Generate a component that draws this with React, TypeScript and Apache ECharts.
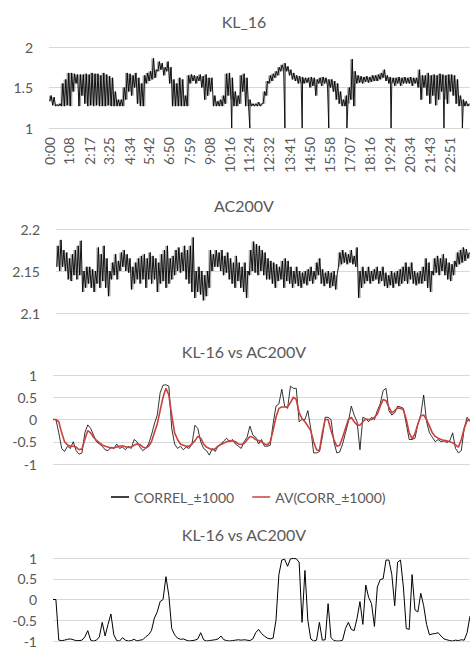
import React, { useEffect, useRef } from "react";
import * as echarts from "echarts";

// ---------- data ----------
const TIME_LABELS = [
  "0:00", "1:08", "2:17", "3:25", "4:34", "5:42", "6:50", "7:59", "9:08", "10:16", "11:24",
  "12:32", "13:41", "14:50", "15:58", "17:07", "18:16", "19:24", "20:34", "21:43", "22:51",
];
const DAY_MINUTES = 1440;
const BIN_MINUTES = 10;

// KL_16: low / high envelope per 10-minute bin
const KL16_LOW = [
  1.33, 1.28, 1.27, 1.27, 1.27, 1.27, 1.28, 1.27, 1.45, 1.55, 1.27, 1.4, 1.3, 1.27, 1.28, 1.27,
  1.28, 1.27, 1.27, 1.27, 1.28, 1.27, 1.27, 1.27, 1.27, 1.27, 1.35, 1.45, 1.4, 1.5, 1.3, 1.27,
  1.27, 1.55, 1.58, 1.6, 1.62, 1.7, 1.72, 1.65, 1.7, 1.55, 1.27, 1.27, 1.27, 1.27, 1.27, 1.27,
  1.55, 1.58, 1.55, 1.58, 1.5, 1.35, 1.4, 1.45, 1.27, 1.27, 1.27, 1.27, 1.3, 1.4, 1.35, 1.27,
  1.27, 1.3, 1.45, 1.27, 1.27, 1.27, 1.27, 1.27, 1.27, 1.3, 1.4, 1.55, 1.58, 1.62, 1.65, 1.7,
  1.72, 1.7, 1.65, 1.6, 1.58, 1.55, 1.55, 1.55, 1.56, 1.5, 1.52, 1.4, 1.55, 1.52, 1.55, 1.52,
  1.5, 1.45, 1.35, 1.3, 1.27, 1.27, 1.3, 1.35, 1.27, 1.55, 1.56, 1.55, 1.57, 1.56, 1.57, 1.58,
  1.58, 1.6, 1.62, 1.58, 1.55, 1.55, 1.52, 1.55, 1.52, 1.55, 1.55, 1.55, 1.52, 1.55, 1.5, 1.35,
  1.5, 1.4, 1.3, 1.4, 1.28, 1.35, 1.45, 1.35, 1.3, 1.45, 1.4, 1.3, 1.27, 1.27, 1.27, 1.27,
];
const KL16_HIGH = [
  1.4, 1.38, 1.29, 1.3, 1.55, 1.6, 1.68, 1.68, 1.67, 1.66, 1.66, 1.66, 1.67, 1.66, 1.68, 1.67,
  1.67, 1.65, 1.68, 1.66, 1.64, 1.62, 1.45, 1.35, 1.35, 1.5, 1.68, 1.67, 1.65, 1.68, 1.62, 1.55,
  1.65, 1.68, 1.7, 1.86, 1.72, 1.82, 1.8, 1.75, 1.82, 1.75, 1.6, 1.55, 1.62, 1.6, 1.4, 1.65,
  1.66, 1.65, 1.64, 1.66, 1.64, 1.66, 1.62, 1.62, 1.4, 1.33, 1.35, 1.4, 1.67, 1.68, 1.62, 1.45,
  1.4, 1.65, 1.67, 1.62, 1.35, 1.3, 1.3, 1.32, 1.3, 1.45, 1.58, 1.65, 1.67, 1.7, 1.75, 1.78,
  1.8, 1.76, 1.72, 1.68, 1.65, 1.64, 1.63, 1.62, 1.62, 1.63, 1.62, 1.6, 1.62, 1.63, 1.62, 1.6,
  1.6, 1.58, 1.55, 1.45, 1.35, 1.4, 1.5, 1.85, 1.7, 1.65, 1.64, 1.63, 1.64, 1.63, 1.65, 1.65,
  1.66, 1.68, 1.72, 1.65, 1.63, 1.62, 1.62, 1.63, 1.62, 1.63, 1.62, 1.63, 1.62, 1.62, 1.72, 1.65,
  1.65, 1.68, 1.65, 1.66, 1.65, 1.67, 1.66, 1.65, 1.66, 1.66, 1.65, 1.6, 1.4, 1.35, 1.33, 1.3,
];
// single-sample drops of KL_16 down to 1 (minute of day)
const KL16_DROP_MINUTES = [625, 687, 807, 866, 957, 1019, 1170, 1351, 1414];
const KL16_DROP_VALUE = 1.0;

// AC200V: low / high envelope per 10-minute bin
const AC_LOW = [
  2.155, 2.15, 2.155, 2.15, 2.14, 2.138, 2.145, 2.14, 2.145, 2.125, 2.13, 2.135, 2.13, 2.125, 2.135, 2.13,
  2.138, 2.13, 2.12, 2.14, 2.145, 2.14, 2.15, 2.155, 2.15, 2.148, 2.128, 2.135, 2.14, 2.135, 2.14, 2.13,
  2.14, 2.135, 2.14, 2.125, 2.135, 2.138, 2.13, 2.135, 2.14, 2.145, 2.15, 2.148, 2.15, 2.14, 2.135, 2.125,
  2.118, 2.125, 2.122, 2.115, 2.12, 2.13, 2.15, 2.155, 2.155, 2.15, 2.145, 2.148, 2.14, 2.135, 2.13, 2.138,
  2.13, 2.125, 2.118, 2.145, 2.15, 2.148, 2.145, 2.15, 2.145, 2.14, 2.14, 2.135, 2.13, 2.138, 2.14, 2.13,
  2.138, 2.135, 2.13, 2.135, 2.132, 2.13, 2.135, 2.133, 2.138, 2.135, 2.14, 2.145, 2.135, 2.132, 2.135, 2.13,
  2.132, 2.128, 2.155, 2.158, 2.16, 2.158, 2.16, 2.158, 2.155, 2.118, 2.13, 2.135, 2.138, 2.135, 2.138, 2.14,
  2.135, 2.138, 2.132, 2.13, 2.133, 2.13, 2.135, 2.132, 2.135, 2.138, 2.135, 2.14, 2.135, 2.133, 2.135, 2.135,
  2.138, 2.13, 2.125, 2.145, 2.148, 2.145, 2.15, 2.145, 2.14, 2.138, 2.145, 2.155, 2.158, 2.16, 2.162, 2.165,
];
const AC_HIGH = [
  2.18, 2.187, 2.175, 2.172, 2.165, 2.17, 2.175, 2.18, 2.186, 2.15, 2.155, 2.155, 2.152, 2.15, 2.178, 2.17,
  2.18, 2.165, 2.15, 2.16, 2.17, 2.162, 2.172, 2.175, 2.17, 2.165, 2.155, 2.16, 2.165, 2.168, 2.17, 2.165,
  2.172, 2.168, 2.165, 2.16, 2.17, 2.175, 2.18, 2.165, 2.168, 2.175, 2.178, 2.172, 2.18, 2.175, 2.18, 2.19,
  2.15, 2.155, 2.15, 2.145, 2.15, 2.175, 2.17, 2.175, 2.172, 2.175, 2.168, 2.172, 2.165, 2.16, 2.168, 2.16,
  2.155, 2.16, 2.15, 2.175, 2.185, 2.182, 2.18, 2.175, 2.172, 2.165, 2.162, 2.16, 2.158, 2.155, 2.162, 2.165,
  2.162, 2.155, 2.15, 2.155, 2.15, 2.148, 2.15, 2.152, 2.155, 2.15, 2.16, 2.165, 2.152, 2.148, 2.15, 2.148,
  2.15, 2.145, 2.172, 2.175, 2.172, 2.17, 2.175, 2.168, 2.178, 2.15, 2.155, 2.15, 2.155, 2.15, 2.152, 2.155,
  2.15, 2.155, 2.148, 2.145, 2.15, 2.148, 2.15, 2.152, 2.155, 2.16, 2.155, 2.16, 2.15, 2.148, 2.15, 2.155,
  2.165, 2.16, 2.15, 2.165, 2.168, 2.165, 2.17, 2.165, 2.16, 2.158, 2.162, 2.172, 2.175, 2.178, 2.176, 2.172,
];

// KL-16 vs AC200V : values every 10 minutes (0 .. 1440)
const CORREL = [
  0, 0, -0.3, -0.65, -0.72, -0.6, -0.65, -0.5, -0.7, -0.78, -0.75, -0.3, -0.12, -0.2, -0.35, -0.5,
  -0.55, -0.6, -0.68, -0.7, -0.62, -0.65, -0.55, -0.65, -0.62, -0.68, -0.6, -0.65, -0.45, -0.5, -0.62, -0.7,
  -0.65, -0.55, -0.35, -0.1, 0.1, 0.6, 0.77, 0.78, 0.75, -0.2, -0.55, -0.65, -0.6, -0.68, -0.62, -0.65,
  -0.55, -0.13, -0.2, -0.5, -0.65, -0.7, -0.8, -0.65, -0.72, -0.6, -0.55, -0.48, -0.42, -0.5, -0.45, -0.55,
  -0.6, -0.65, -0.5, -0.4, -0.15, -0.35, -0.4, -0.55, -0.45, -0.6, -0.6, -0.58, -0.1, 0.3, 0.35, 0.68,
  0.3, 0.25, 0.75, 0.7, 0.7, -0.05, 0, 0, 0.2, -0.2, -0.75, -0.75, -0.72, -0.4, 0.05, 0.05,
  0, -0.5, -0.75, -0.73, -0.55, -0.3, -0.05, 0.3, 0.1, -0.05, -0.68, 0.05, 0.02, -0.05, 0.05, 0,
  0.2, 0.35, 0.65, 0.7, 0.2, 0.1, 0.15, 0.3, 0.28, 0.25, -0.1, -0.45, -0.45, -0.42, -0.1, 0.1,
  0.55, -0.05, -0.3, -0.4, -0.5, -0.45, -0.5, -0.48, -0.52, -0.48, -0.3, -0.65, -0.75, -0.7, -0.2, 0.05,
  -0.05,
];
const AV_CORR = [
  0, 0, -0.05, -0.3, -0.5, -0.57, -0.6, -0.6, -0.62, -0.68, -0.66, -0.45, -0.25, -0.3, -0.4, -0.47,
  -0.52, -0.57, -0.6, -0.62, -0.64, -0.64, -0.62, -0.6, -0.59, -0.61, -0.63, -0.62, -0.58, -0.55, -0.56, -0.62,
  -0.64, -0.6, -0.5, -0.3, -0.1, 0.2, 0.5, 0.7, 0.55, 0.1, -0.3, -0.45, -0.55, -0.58, -0.6, -0.6,
  -0.55, -0.48, -0.38, -0.42, -0.55, -0.62, -0.65, -0.68, -0.66, -0.6, -0.56, -0.53, -0.5, -0.48, -0.48, -0.5,
  -0.55, -0.56, -0.54, -0.46, -0.38, -0.4, -0.45, -0.47, -0.5, -0.55, -0.57, -0.5, -0.25, 0.05, 0.25, 0.28,
  0.28, 0.28, 0.38, 0.5, 0.45, 0.15, 0.02, -0.05, -0.15, -0.25, -0.5, -0.68, -0.7, -0.3, 0, 0,
  -0.25, -0.45, -0.6, -0.58, -0.4, -0.2, 0, 0.05, -0.05, -0.12, -0.13, -0.05, 0.01, 0, 0, 0.05,
  0.12, 0.3, 0.45, 0.42, 0.28, 0.15, 0.2, 0.26, 0.25, 0.22, 0, -0.3, -0.43, -0.32, -0.1, 0.08,
  0.1, 0, -0.15, -0.3, -0.38, -0.42, -0.45, -0.47, -0.48, -0.5, -0.52, -0.57, -0.62, -0.45, -0.2, -0.03,
  0,
];
const CORREL_2 = [
  0, 0, -0.98, -0.99, -0.98, -0.96, -0.95, -0.97, -0.99, -0.99, -0.98, -0.9, -0.75, -0.98, -1, -0.98,
  -0.9, -0.55, -0.88, -0.6, -0.35, -0.85, -0.99, -1, -0.92, -0.98, -1, -0.99, -0.96, -1, -0.98, -0.97,
  -0.9, -0.85, -0.75, -0.45, -0.3, -0.05, 0, 0.55, 0.1, -0.7, -0.85, -0.93, -0.96, -0.95, -0.98, -1,
  -0.99, -0.98, -0.95, -0.8, -0.97, -1, -0.99, -0.98, -0.97, -0.95, -0.88, -0.97, -0.99, -1, -0.99, -0.98,
  -0.97, -0.98, -0.97, -0.98, -0.99, -0.95, -0.8, -0.72, -0.82, -0.88, -0.93, -0.95, -0.93, -0.5, 0.6, 0.95,
  0.97, 0.8, 0.98, 0.99, 0.98, 0.9, -0.55, 0.7, -0.5, -0.95, -1, -0.98, -0.55, -0.98, -0.97, -0.1,
  -0.92, -0.99, -1, -1, -0.98, -0.7, -0.55, -0.72, -0.75, -0.45, -0.05, -0.6, 0.35, 0.05, -0.1, -0.65,
  0.3, 0.48, 0.5, 0.95, 0.95, 0.6, -0.15, 0.9, 0.95, 0.3, -0.7, -0.72, 0.6, -0.25, -0.3, 0.15,
  -0.15, -0.6, -0.85, -0.83, -0.82, -0.8, -0.88, -0.95, -0.97, -0.99, -1, -0.98, -0.99, -0.97, -0.98, -0.8,
  -0.4,
];

// ---------- helpers ----------
const FONT = "Lato, 'Open Sans', sans-serif";
const TEXT = "#595959";
const GRIDLINE = "#d9d9d9";

const toMinutes = (s: string) => {
  const [h, m] = s.split(":").map(Number);
  return h * 60 + m;
};
const TICK_MINUTES = TIME_LABELS.map(toMinutes);
const LABEL_BY_MIN: Record<number, string> = {};
TIME_LABELS.forEach((l, i) => (LABEL_BY_MIN[TICK_MINUTES[i]] = l));

// zig-zag through each bin's low then high, plus optional single drops
const envelope = (lo: number[], hi: number[], drops: number[] = [], dropValue = 0) => {
  const pts: number[][] = lo.flatMap((l, i) => [
    [i * BIN_MINUTES + BIN_MINUTES * 0.25, l],
    [i * BIN_MINUTES + BIN_MINUTES * 0.75, hi[i]],
  ]);
  drops.forEach((m) => pts.push([m, dropValue]));
  return pts.sort((a, b) => a[0] - b[0]);
};
const bandData = (lo: number[], hi: number[]) => lo.map((l, i) => [i * BIN_MINUTES, l, hi[i]]);
const series10 = (vals: number[]) => vals.map((v, i) => [i * BIN_MINUTES, v]);

const num = (v: number) => String(+v.toFixed(2));

function xAxis(gridIndex: number, showLabels: boolean) {
  return {
    type: "value",
    gridIndex,
    min: 0,
    max: DAY_MINUTES,
    axisLine: { show: false },
    axisTick: { show: false },
    splitLine: { show: false },
    axisLabel: showLabels
      ? {
          show: true,
          customValues: TICK_MINUTES,
          rotate: 90,
          margin: 9,
          color: TEXT,
          fontSize: 14,
          fontFamily: FONT,
          formatter: (v: number) => LABEL_BY_MIN[v] ?? "",
        }
      : { show: false },
  };
}
function yAxis(gridIndex: number, min: number, max: number, interval: number) {
  return {
    type: "value",
    gridIndex,
    min,
    max,
    interval,
    axisLine: { show: false },
    axisTick: { show: false },
    splitLine: { show: true, lineStyle: { color: GRIDLINE, width: 1 } },
    axisLabel: { color: TEXT, fontSize: 14, fontFamily: FONT, margin: 16, formatter: num },
  };
}
const title = (text: string, y: number) => ({
  type: "text",
  x: 244,
  y,
  style: { text, fill: TEXT, fontSize: 16, fontFamily: FONT, align: "center", verticalAlign: "middle" },
});

export default function App() {
  const ref = useRef<HTMLDivElement>(null);
  useEffect(() => {
    if (!ref.current) return;
    const chart = echarts.init(ref.current, undefined, { renderer: "svg" });
    const line = (name: string, xi: number, data: any[], color: string, width: number) => ({
      name,
      type: "line",
      xAxisIndex: xi,
      yAxisIndex: xi,
      data,
      showSymbol: false,
      symbol: "none",
      smooth: false,
      lineStyle: { color, width },
      itemStyle: { color },
      silent: true,
    });
    const band = (xi: number, data: any[], opacity: number) => ({
      type: "custom",
      xAxisIndex: xi,
      yAxisIndex: xi,
      data,
      silent: true,
      clip: true,
      encode: { x: 0, y: [1, 2] },
      renderItem: (_p: any, api: any) => {
        const x = api.value(0);
        const a = api.coord([x, api.value(1)]);
        const b = api.coord([x + BIN_MINUTES, api.value(2)]);
        return {
          type: "rect",
          shape: { x: a[0], y: b[1], width: b[0] - a[0], height: a[1] - b[1] },
          style: { fill: "#000", opacity },
        };
      },
    });
    chart.setOption({
      animation: false,
      backgroundColor: "#ffffff",
      textStyle: { fontFamily: FONT },
      grid: [
        { left: 49, right: 0, top: 47, height: 81 },
        { left: 56, right: 0, top: 229, height: 84 },
        { left: 53, right: 0, top: 375, height: 89 },
        { left: 53, right: 0, top: 558, height: 84 },
      ],
      xAxis: [xAxis(0, true), xAxis(1, false), xAxis(2, false), xAxis(3, false)],
      yAxis: [yAxis(0, 1, 2, 0.5), yAxis(1, 2.1, 2.2, 0.05), yAxis(2, -1, 1, 0.5), yAxis(3, -1, 1, 0.5)],
      legend: {
        data: ["CORREL_±1000", "AV(CORR_±1000)"],
        left: 106,
        top: 485,
        icon: "rect",
        itemWidth: 18,
        itemHeight: 1.5,
        itemGap: 18,
        textStyle: { color: TEXT, fontSize: 14, fontFamily: FONT },
      },
      graphic: [
        title("KL_16", 21),
        title("AC200V", 205),
        title("KL-16 vs AC200V", 351),
        title("KL-16 vs AC200V", 534),
      ],
      series: [
        band(0, bandData(KL16_LOW, KL16_HIGH), 0.35),
        line("KL_16", 0, envelope(KL16_LOW, KL16_HIGH, KL16_DROP_MINUTES, KL16_DROP_VALUE), "#000000", 0.9),
        band(1, bandData(AC_LOW, AC_HIGH), 0.3),
        line("AC200V", 1, envelope(AC_LOW, AC_HIGH), "#000000", 0.9),
        line("CORREL_±1000", 2, series10(CORREL), "#000000", 0.8),
        line("AV(CORR_±1000)", 2, series10(AV_CORR), "#c9403c", 1.6),
        line("CORREL_2", 3, series10(CORREL_2), "#000000", 1),
      ],
    });
    return () => chart.dispose();
  }, []);
  return (
    <div style={{ position: "fixed", left: 0, top: 0, width: 470, height: 648, background: "#fff" }}>
      <div ref={ref} style={{ width: 470, height: 648 }} />
    </div>
  );
}
